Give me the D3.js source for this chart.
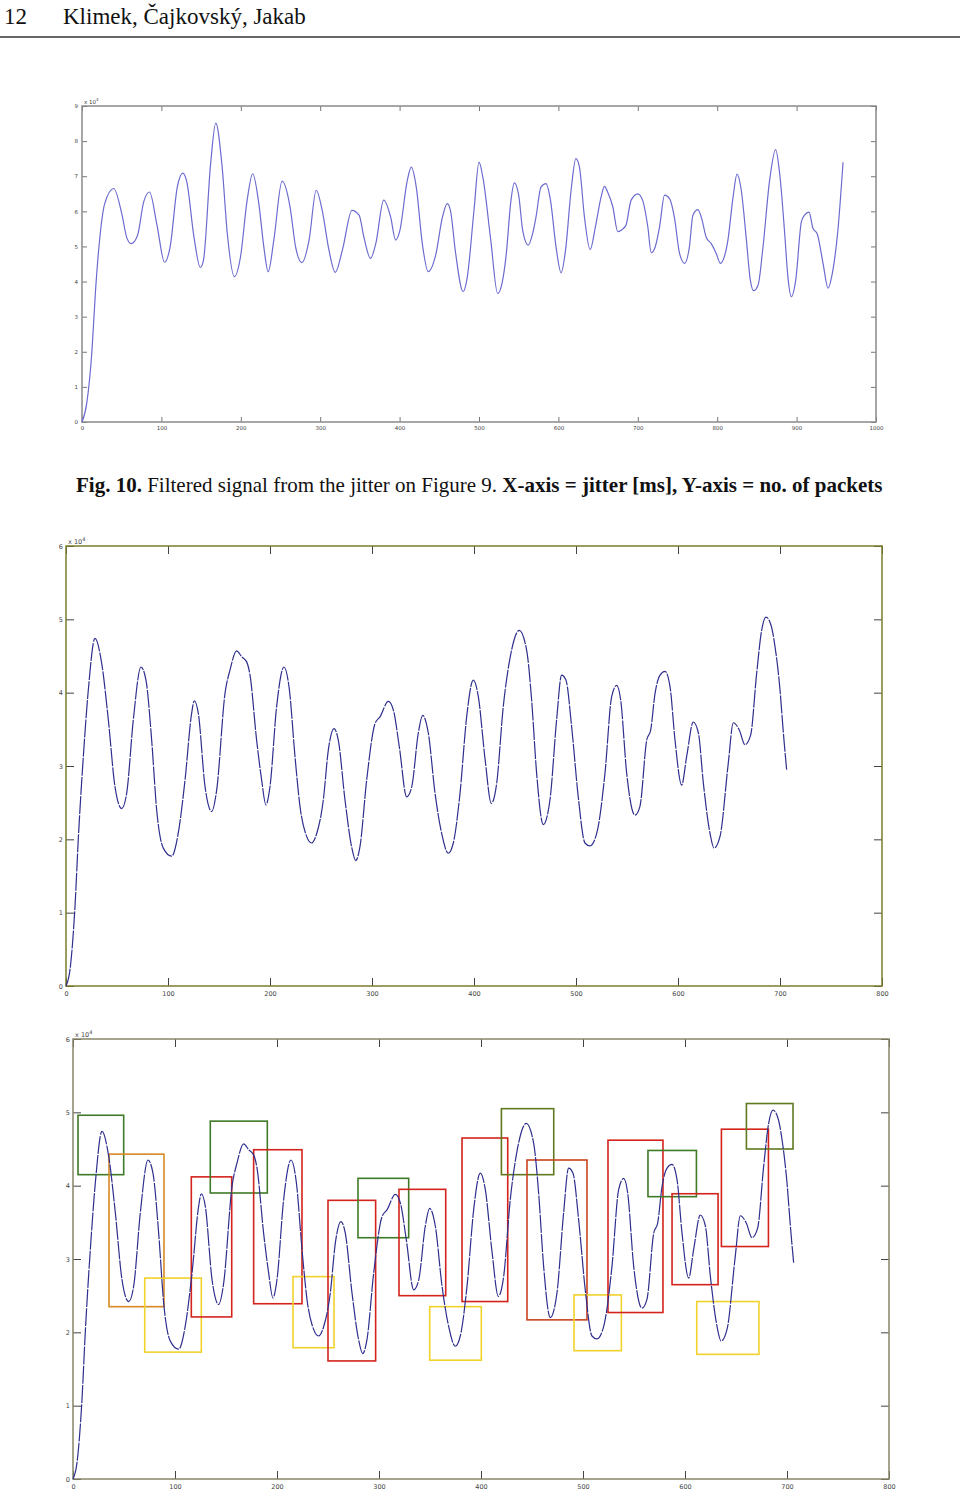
<!DOCTYPE html>
<html lang="en">
<head>
<meta charset="UTF-8">
<title>Filtered jitter signal</title>
<script src="https://d3js.org/d3.v7.min.js"></script>
<style>
  body { margin: 0; background: #fff; }
  svg { display: block; }
  .tick text { font-family: "DejaVu Sans", sans-serif; fill: #444; }
  .serif { font-family: "Liberation Serif", "Times New Roman", serif; fill: #111; }
</style>
</head>
<body>
<script>
// Fig. 10 signal: jitter [ms] vs packets (x 10^4)
const sig1X = [0, 6, 12.6, 16.8, 23, 28.6, 40, 50, 56.7, 62, 70, 77.7, 85, 94.5, 104, 111, 120, 127, 132, 141, 149, 153,
  162, 168.5, 176.5, 183, 192, 199.6, 208, 215, 222.7, 229, 234.5, 241.6, 252, 262, 269, 277, 286, 295, 302.5, 311, 319,
  328, 340, 349, 355, 363.4, 370, 380, 388.7, 395, 400, 409.7, 414.7, 421, 428.6, 436, 445.4, 454, 460, 464, 470.6, 480,
  485, 493.7, 500, 505, 514.7, 523.5, 529, 534, 540.3, 544.5, 550, 555, 562, 567.6, 571.8, 578, 584.4, 590, 597, 603.4,
  609, 616, 622, 626.5, 632.8, 640, 646.6, 653.8, 658, 662, 668.5, 674.8, 679, 685, 691.6, 700, 706, 712.6, 716.9, 722,
  727.4, 733.7, 740, 746, 752.6, 759, 765, 769.4, 775.7, 781, 786, 792.5, 798.8, 804, 809, 813.5, 820, 825, 830, 836.8,
  841.7, 846, 851.5, 857.7, 866, 873.6, 878.7, 885, 889, 893.4, 898.9, 906, 910, 915.6, 920.7, 925.8, 933.3, 939.6, 945,
  952, 958.5];
const sig1Y = [0, 0.54, 2.05, 3.66, 5.37, 6.22, 6.65, 5.94, 5.23, 5.08, 5.32, 6.27, 6.55, 5.6, 4.55, 4.99, 6.69, 7.09, 6.84,
  5.27, 4.4, 4.61, 7.36, 8.51, 7.26, 5.37, 4.14, 4.7, 6.32, 7.07, 6.22, 4.99, 4.28, 5.18, 6.86, 6.13, 4.99, 4.54, 5.18,
  6.6, 6.03, 4.9, 4.26, 4.9, 6.03, 5.89, 5.27, 4.66, 5.08, 6.32, 5.84, 5.18, 5.42, 6.88, 7.26, 6.69, 5.08, 4.28, 4.75,
  5.84, 6.22, 6.03, 4.8, 3.71, 4.09, 6.03, 7.4, 6.95, 5.2, 3.66, 3.95, 4.71, 6.32, 6.81, 6.46, 5.46, 5.04, 5.37, 5.84,
  6.69, 6.79, 6.32, 4.99, 4.25, 4.9, 6.6, 7.5, 7.26, 5.84, 4.91, 5.56, 6.41, 6.71, 6.55, 6.13, 5.42, 5.46, 5.6, 6.32,
  6.5, 6.32, 5.56, 4.82, 4.99, 5.56, 6.46, 6.36, 5.84, 4.8, 4.52, 4.99, 5.89, 6.05, 5.75, 5.27, 5.08, 4.8, 4.52, 4.71,
  5.18, 6.41, 7.06, 6.65, 5.18, 4.04, 3.74, 3.9, 4.99, 6.88, 7.76, 7.07, 5.37, 4.14, 3.57, 4.04, 5.7, 5.89, 5.98, 5.51,
  5.37, 4.52, 3.81, 4.23, 5.46, 7.4];

// second measurement (used by the last two plots)
const sig2X = [0, 3.9, 8.8, 12, 17, 21.9, 28.4, 35, 41.5, 48, 54.6, 59.5, 66, 73.5, 78.4, 84, 88.9, 95.4, 103.6, 110,
  116.7, 123.2, 125.8, 129.7, 136.3, 142.8, 147.7, 155.9, 160.8, 167.3, 172.2, 177.1, 180.4, 186.9, 191.8, 196, 200,
  206.5, 213.7, 219, 224.5, 229.4, 235.9, 240.8, 245.8, 252.3, 257.2, 262.7, 267, 273.5, 280, 284, 288.2, 294.8, 303,
  307.8, 316, 321, 326.8, 334, 339, 345.4, 349.7, 355.2, 361.8, 368.3, 374.8, 379.7, 386.3, 392.8, 399.3, 404.2, 410.8,
  417, 422.2, 428.7, 435.3, 444.4, 451.6, 456.5, 461.4, 467.9, 474.5, 481, 485.9, 490.2, 495.7, 502.2, 508.8, 513.7,
  520.3, 528.4, 535, 539.9, 543.8, 549.7, 557.8, 562.7, 569.3, 573.2, 577.5, 582.4, 587.3, 592.2, 597.1, 603.6, 608.5,
  615, 620, 624.9, 631.4, 635.3, 641.2, 649.3, 654.2, 660.1, 665.7, 671.2, 677.1, 682, 686.3, 691.2, 695.1, 700, 703.3,
  706.5];
const sig2Y = [0, 0.22, 1.08, 1.99, 3.13, 4.04, 4.74, 4.4, 3.63, 2.72, 2.42, 2.63, 3.63, 4.35, 4.17, 3.35, 2.4, 1.88,
  1.77, 2.08, 2.81, 3.72, 3.89, 3.72, 2.72, 2.38, 2.67, 3.99, 4.31, 4.57, 4.49, 4.42, 4.24, 3.35, 2.81, 2.47, 2.72, 3.81,
  4.35, 4.04, 3.13, 2.45, 2.04, 1.95, 2.08, 2.54, 3.22, 3.51, 3.35, 2.54, 1.9, 1.71, 1.9, 2.81, 3.58, 3.67, 3.88, 3.76,
  3.26, 2.58, 2.72, 3.45, 3.69, 3.45, 2.63, 2.08, 1.81, 1.95, 2.63, 3.67, 4.17, 3.95, 3.1, 2.49, 2.76, 3.81, 4.47, 4.85,
  4.58, 3.9, 2.9, 2.2, 2.54, 3.63, 4.24, 4.17, 3.54, 2.58, 1.95, 1.91, 2.08, 2.9, 3.95, 4.1, 3.9, 2.9, 2.33, 2.45, 3.35,
  3.49, 3.99, 4.24, 4.29, 4.08, 3.35, 2.74, 3.13, 3.6, 3.45, 2.76, 2.08, 1.88, 2.04, 3.04, 3.59, 3.49, 3.29, 3.42, 4.26,
  4.85, 5.03, 4.92, 4.63, 4.04, 3.45, 2.95];

// marked regions on the last plot
const boxKind = ["green", "orange", "yellow", "red", "green", "red", "yellow", "red", "green", "red", "yellow", "red",
  "olive", "rust", "yellow", "red", "green", "red", "yellow", "red", "olive"];
const boxX0 = [4.9, 35.3, 70.3, 116, 134.6, 177.1, 215.7, 250, 279.4, 319.6, 349.7, 381.4, 420, 445.1, 491.2, 524.5,
  563.7, 587.3, 611.5, 635.7, 660.2];
const boxX1 = [49.7, 89.2, 125.8, 155.6, 190.5, 224.5, 255.9, 296.7, 329.1, 365.4, 400.3, 426.2, 471.3, 503.9, 537.6,
  578.4, 611.2, 632.4, 672.5, 681.8, 705.9];
const boxYTop = [4.96, 4.43, 2.74, 4.12, 4.88, 4.49, 2.76, 3.8, 4.1, 3.95, 2.35, 4.65, 5.05, 4.35, 2.51, 4.62, 4.48,
  3.89, 2.42, 4.77, 5.12];
const boxYBot = [4.15, 2.35, 1.73, 2.21, 3.9, 2.39, 1.79, 1.61, 3.29, 2.5, 1.62, 2.42, 4.15, 2.17, 1.75, 2.27, 3.85,
  2.65, 1.7, 3.17, 4.5];

const boxColor = {
  green: "#3f7a26", olive: "#5f7a1e", orange: "#d68a24", yellow: "#f1d22a", red: "#d4231c", rust: "#c9441e"
};

const svg = d3.select("body").append("svg")
  .attr("width", 960)
  .attr("height", 1493);

// page header
svg.append("text").attr("class", "serif").attr("x", 4).attr("y", 24)
  .style("font-size", "23px").text("12");
svg.append("text").attr("class", "serif").attr("x", 63).attr("y", 24)
  .style("font-size", "23px").text("Klimek, Čajkovský, Jakab");
svg.append("line").attr("x1", 0).attr("x2", 960).attr("y1", 37).attr("y2", 37)
  .attr("stroke", "#333").attr("stroke-width", 1.5);

function panel(opt) {
  const x = d3.scaleLinear().domain([0, opt.xMax]).range([opt.left, opt.right]);
  const y = d3.scaleLinear().domain([0, opt.yMax]).range([opt.bottom, opt.top]);
  const g = svg.append("g");
  const xt = d3.range(0, opt.xMax + 1, 100);
  const yt = d3.range(0, opt.yMax + 1, 1);
  const fmt = d3.format("d");

  const styleAxis = (sel, showText) => {
    sel.select(".domain").remove();
    sel.selectAll(".tick line").attr("stroke", opt.tickColor).attr("stroke-width", 1);
    sel.selectAll(".tick text").style("font-size", opt.fs + "px");
    if (!showText) sel.selectAll(".tick text").remove();
  };

  g.append("g").attr("transform", `translate(0,${opt.bottom})`)
    .call(d3.axisBottom(x).tickValues(xt).tickFormat(fmt).tickSize(-opt.tick).tickPadding(opt.padX))
    .call(s => styleAxis(s, true));
  g.append("g").attr("transform", `translate(0,${opt.top})`)
    .call(d3.axisTop(x).tickValues(xt).tickSize(-opt.tick))
    .call(s => styleAxis(s, false));
  g.append("g").attr("transform", `translate(${opt.left},0)`)
    .call(d3.axisLeft(y).tickValues(yt).tickFormat(fmt).tickSize(-opt.tick).tickPadding(opt.padY))
    .call(s => styleAxis(s, true));
  g.append("g").attr("transform", `translate(${opt.right},0)`)
    .call(d3.axisRight(y).tickValues(yt).tickSize(-opt.tick))
    .call(s => styleAxis(s, false));

  g.append("rect")
    .attr("x", opt.left).attr("y", opt.top)
    .attr("width", opt.right - opt.left).attr("height", opt.bottom - opt.top)
    .attr("fill", "none").attr("stroke", opt.frame).attr("stroke-width", 1.5);

  const exp = g.append("text")
    .attr("x", opt.left + 2).attr("y", opt.top - 2)
    .style("font-family", "DejaVu Sans, sans-serif")
    .style("font-size", opt.fs + "px").attr("fill", "#444")
    .text("x 10");
  exp.append("tspan").attr("dy", -3).style("font-size", (opt.fs - 1.5) + "px").text("4");

  if (opt.boxes) {
    g.append("g").selectAll("rect")
      .data(boxKind.map((k, i) => ({ k, x0: boxX0[i], x1: boxX1[i], y0: boxYTop[i], y1: boxYBot[i] })))
      .join("rect")
      .attr("x", d => x(d.x0)).attr("y", d => y(d.y0))
      .attr("width", d => x(d.x1) - x(d.x0)).attr("height", d => y(d.y1) - y(d.y0))
      .attr("fill", "none").attr("stroke", d => boxColor[d.k]).attr("stroke-width", 1.6);
  }

  const line = d3.line().x(d => x(d[0])).y(d => y(d[1])).curve(d3.curveMonotoneX);
  g.append("path")
    .datum(opt.xs.map((v, i) => [v, opt.ys[i]]))
    .attr("d", line)
    .attr("fill", "none")
    .attr("stroke", opt.lineColor)
    .attr("stroke-width", 1.2)
    .attr("stroke-dasharray", opt.dash || null);
}

panel({ left: 82, right: 876, top: 106, bottom: 422, xMax: 1000, yMax: 9, tick: 5, fs: 5.5, padX: 4, padY: 4,
  frame: "#8a8a8a", tickColor: "#777", lineColor: "#6b6bd0", xs: sig1X, ys: sig1Y });

// caption
const cap = svg.append("text").attr("class", "serif").attr("x", 76).attr("y", 492)
  .style("font-size", "21px");
cap.append("tspan").style("font-weight", "bold").text("Fig. 10.");
cap.append("tspan").text(" Filtered signal from the jitter on Figure 9. ");
cap.append("tspan").style("font-weight", "bold").text("X-axis = jitter [ms], Y-axis = no. of packets");

panel({ left: 66, right: 882, top: 546, bottom: 986, xMax: 800, yMax: 6, tick: 8, fs: 6.5, padX: 5, padY: 3,
  frame: "#7c7c2a", tickColor: "#444", lineColor: "#2e2e8e", dash: "18,1.2", xs: sig2X, ys: sig2Y });

panel({ left: 73, right: 889, top: 1039, bottom: 1479, xMax: 800, yMax: 6, tick: 8, fs: 6.5, padX: 5, padY: 3,
  frame: "#85856a", tickColor: "#444", lineColor: "#2e2e8e", dash: "18,1.2", xs: sig2X, ys: sig2Y, boxes: true });
</script>
</body>
</html>
